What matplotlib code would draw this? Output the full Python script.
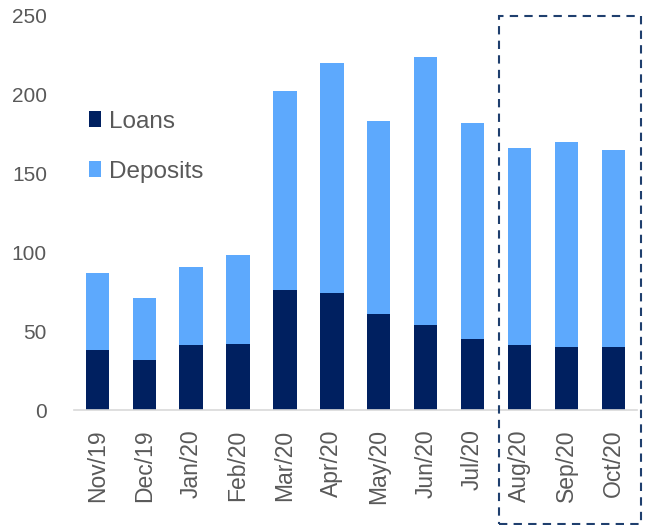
import numpy as np
import matplotlib.pyplot as plt
from matplotlib.patches import Rectangle

months = ["Nov/19", "Dec/19", "Jan/20", "Feb/20", "Mar/20", "Apr/20",
          "May/20", "Jun/20", "Jul/20", "Aug/20", "Sep/20", "Oct/20"]
loans = [38, 32, 41, 42, 76, 74, 61, 54, 45, 41, 40, 40]
deposits = [49, 39, 50, 56, 126, 146, 122, 170, 137, 125, 130, 125]

plt.rcParams['font.family'] = ['Liberation Sans', 'DejaVu Sans']

fig = plt.figure(figsize=(6.49, 5.25), dpi=100)
ax = fig.add_axes([0.114, 0.219, 0.867, 0.751])

x = np.arange(len(months))
ax.bar(x, loans, width=0.5, color='#002060', label='Loans')
ax.bar(x, deposits, width=0.5, bottom=loans, color='#5DA9FD', label='Deposits')

ax.set_xlim(-0.5, 11.5)
ax.set_ylim(0, 250)
ax.set_yticks(range(0, 251, 50))
ax.set_xticks(x)
ax.set_xticklabels(months, rotation=90)
ax.tick_params(length=0, labelsize=15, colors='#595959')
ax.tick_params(axis='y', pad=19.5)
ax.tick_params(axis='x', pad=14, labelsize=16.5)
for s in ['top', 'right', 'left']:
    ax.spines[s].set_visible(False)
ax.spines['bottom'].set_color('#D9D9D9')
ax.spines['bottom'].set_linewidth(1.2)

ax.legend(loc='upper left', bbox_to_anchor=(-0.012, 0.815), frameon=False,
          fontsize=17.5, labelcolor='#595959', handlelength=0.5,
          handleheight=0.6, handletextpad=0.3, labelspacing=1.15)

# dashed box around the last three months
fig.patches.append(Rectangle((499 / 649, 1 / 525), 142 / 649, 508 / 525,
                             transform=fig.transFigure, fill=False,
                             edgecolor='#1F3F6E', linestyle=(0, (4, 3)),
                             linewidth=1.5))

plt.savefig('out.png', dpi=100)
